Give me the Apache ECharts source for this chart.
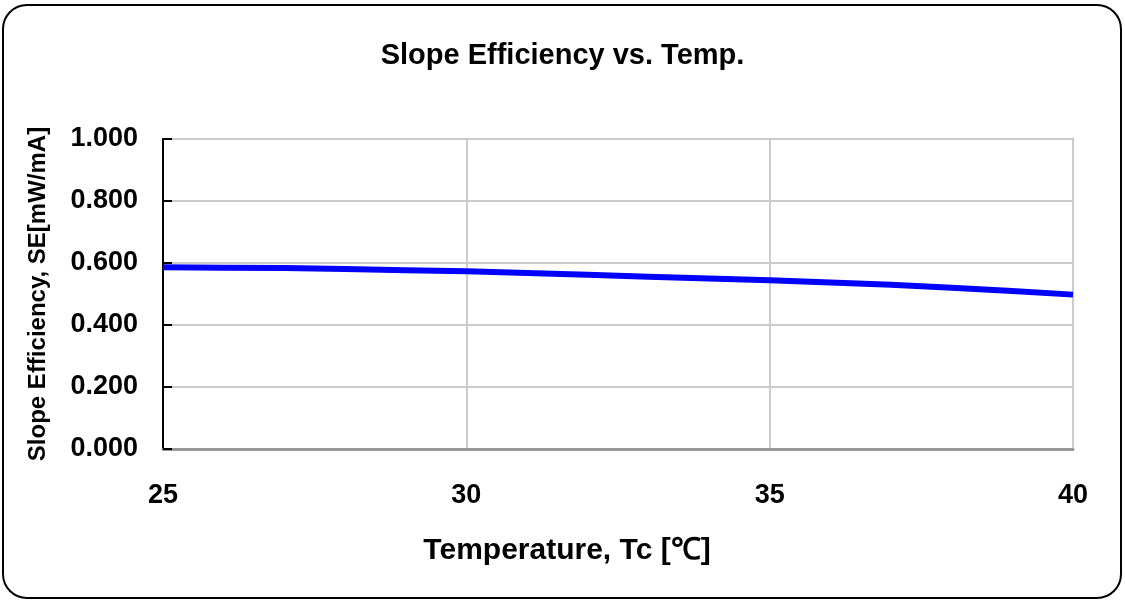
<!DOCTYPE html>
<html>
<head>
<meta charset="utf-8">
<script src="https://cdn.jsdelivr.net/npm/echarts@6/dist/echarts.min.js"></script>
<style>
html,body{margin:0;padding:0;background:#fff;}
#c{width:1125px;height:602px;}
</style>
</head>
<body>
<div id="c"></div>
<script>
const titleText = 'Slope Efficiency vs. Temp.';
const xName = 'Temperature, Tc [℃]';
const yName = 'Slope Efficiency, SE[mW/mA]';
const temps = [25,26,27,28,29,30,31,32,33,34,35,36,37,38,39,40];
const slopeEff = [0.586,0.585,0.584,0.581,0.577,0.573,0.568,0.562,0.556,0.550,0.544,0.537,0.530,0.520,0.510,0.498];

const chart = echarts.init(document.getElementById('c'));
const font = 'Liberation Sans, Arial, sans-serif';
chart.setOption({
  animation:false,
  backgroundColor:'#fff',
  title:{text:titleText,left:'center',top:36,textStyle:{fontFamily:font,fontSize:29,fontWeight:'bold',color:'#000'}},
  graphic:[{type:'rect',shape:{x:3,y:5,width:1118,height:593,r:24},style:{fill:'none',stroke:'#000',lineWidth:2},z:-1}],
  grid:{left:163,right:52,top:139,bottom:153,show:true,borderColor:'#a0a0a0',borderWidth:2},
  xAxis:{type:'value',min:25,max:40,interval:5,
    name:xName,nameLocation:'middle',nameGap:87,
    nameTextStyle:{fontFamily:font,fontSize:30,fontWeight:'bold',color:'#000',padding:[0,102,0,0]},
    axisLine:{show:true,lineStyle:{color:'#999',width:3}},
    axisTick:{show:false},
    axisLabel:{fontFamily:font,fontSize:27,fontWeight:'bold',color:'#000',margin:33},
    splitLine:{show:true,lineStyle:{color:'#cccccc',width:2}}},
  yAxis:{type:'value',min:0,max:1,interval:0.2,
    name:yName,nameLocation:'middle',nameGap:113,
    nameTextStyle:{fontFamily:font,fontSize:24,fontWeight:'bold',color:'#000'},
    axisLine:{show:true,lineStyle:{color:'#000',width:2}},
    axisTick:{show:true,inside:true,length:9,lineStyle:{color:'#000',width:2}},
    axisLabel:{fontFamily:font,fontSize:27,fontWeight:'bold',color:'#000',margin:25,formatter:v=>v.toFixed(3)},
    splitLine:{show:true,lineStyle:{color:'#cccccc',width:2}}},
  series:[{type:'line',data:temps.map((t,i)=>[t,slopeEff[i]]),showSymbol:false,
    lineStyle:{color:'#0000ff',width:6},itemStyle:{color:'#0000ff'}}]
});
</script>
</body>
</html>
